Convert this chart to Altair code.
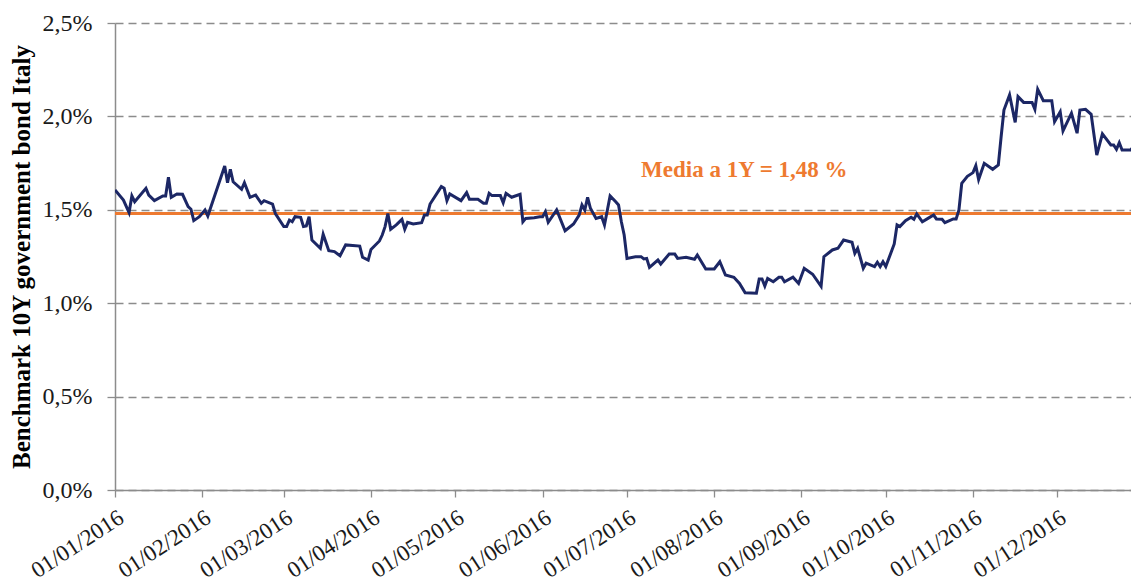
import altair as alt
import pandas as pd

# ---- data ----
month_day = [
    "01-01", "01-04", "01-06", "01-07", "01-08", "01-12", "01-13", "01-15", "01-18", "01-19",
    "01-20", "01-21", "01-23", "01-25", "01-27", "01-28", "01-29", "01-31",
    "02-02", "02-03", "02-09", "02-10", "02-11", "02-12", "02-15", "02-16", "02-18", "02-20",
    "02-22", "02-23", "02-26", "02-27",
    "03-01", "03-02", "03-03", "03-04", "03-05", "03-07", "03-08", "03-09", "03-10", "03-11",
    "03-14", "03-15", "03-17", "03-19", "03-21", "03-23", "03-28", "03-29", "03-31",
    "04-01", "04-04", "04-05", "04-06", "04-07", "04-08", "04-10", "04-12", "04-13", "04-14",
    "04-16", "04-19", "04-20", "04-21", "04-22", "04-26", "04-27", "04-28", "04-29",
    "05-03", "05-05", "05-06", "05-09", "05-11", "05-12", "05-13", "05-14", "05-17", "05-18",
    "05-19", "05-21", "05-24", "05-25", "05-26", "05-29", "05-31",
    "06-01", "06-02", "06-03", "06-06", "06-09", "06-12", "06-14", "06-15", "06-16", "06-17",
    "06-18", "06-20", "06-22", "06-23", "06-25", "06-27", "06-28", "06-29", "06-30",
    "07-01", "07-04", "07-06", "07-07", "07-08", "07-09", "07-12", "07-13", "07-16", "07-18",
    "07-19", "07-22", "07-25", "07-26", "07-29",
    "08-01", "08-03", "08-05", "08-08", "08-10", "08-12", "08-16", "08-17", "08-18", "08-19",
    "08-20", "08-22", "08-24", "08-25", "08-26", "08-29", "08-31",
    "09-02", "09-05", "09-08", "09-09", "09-12", "09-14", "09-16", "09-19", "09-20", "09-21",
    "09-23", "09-24", "09-27", "09-28", "09-29", "09-30",
    "10-01", "10-04", "10-05", "10-06", "10-08", "10-10", "10-11", "10-12", "10-14", "10-16",
    "10-18", "10-19", "10-21", "10-22", "10-25", "10-26", "10-27", "10-28", "10-30",
    "11-01", "11-02", "11-03", "11-05", "11-08", "11-10", "11-11", "11-12", "11-14", "11-16",
    "11-17", "11-19", "11-22", "11-23", "11-24", "11-26", "11-29", "11-30",
    "12-02", "12-03", "12-06", "12-08", "12-09", "12-11", "12-13", "12-15", "12-17", "12-20",
    "12-21", "12-22", "12-23", "12-24", "12-27", "12-28", "12-30",
]

yields = [
    1.606, 1.552, 1.485, 1.574, 1.543, 1.615, 1.579, 1.549, 1.574, 1.574,
    1.674, 1.567, 1.585, 1.583, 1.517, 1.503, 1.442, 1.463,
    1.499, 1.467, 1.734, 1.645, 1.717, 1.650, 1.610, 1.645, 1.567, 1.579,
    1.535, 1.549, 1.531, 1.480,
    1.410, 1.410, 1.445, 1.436, 1.463, 1.460, 1.410, 1.413, 1.463, 1.338,
    1.294, 1.369, 1.281, 1.276, 1.254, 1.312, 1.306, 1.246, 1.231,
    1.288, 1.333, 1.365, 1.410, 1.480, 1.396, 1.419, 1.449, 1.396, 1.433,
    1.424, 1.431, 1.472, 1.472, 1.531, 1.624, 1.615, 1.549, 1.585,
    1.549, 1.592, 1.556, 1.556, 1.535, 1.535, 1.588, 1.576, 1.576, 1.538,
    1.588, 1.567, 1.583, 1.436, 1.454, 1.458, 1.463,
    1.463, 1.490, 1.433, 1.499, 1.388, 1.424, 1.472, 1.526, 1.499, 1.567,
    1.508, 1.454, 1.463, 1.419, 1.574, 1.543, 1.526, 1.436, 1.365,
    1.240, 1.249, 1.249, 1.237, 1.240, 1.192, 1.231, 1.210, 1.263, 1.263,
    1.240, 1.246, 1.235, 1.258, 1.183,
    1.183, 1.222, 1.151, 1.139, 1.106, 1.056, 1.053, 1.130, 1.130, 1.092,
    1.133, 1.115, 1.139, 1.139, 1.115, 1.139, 1.106,
    1.187, 1.155, 1.090, 1.249, 1.285, 1.294, 1.338, 1.326, 1.267, 1.294,
    1.187, 1.214, 1.196, 1.219, 1.196, 1.222,
    1.196, 1.317, 1.419, 1.410, 1.442, 1.460, 1.449, 1.478, 1.436, 1.454,
    1.472, 1.451, 1.449, 1.431, 1.451, 1.451, 1.499, 1.642, 1.679,
    1.699, 1.736, 1.662, 1.749, 1.717, 1.740, 1.891, 2.034, 2.115, 1.968,
    2.106, 2.075, 2.075, 2.038, 2.145, 2.084, 2.084, 1.972,
    2.025, 1.922, 2.017, 1.910, 2.034, 2.038, 2.011, 1.793, 1.906, 1.847,
    1.847, 1.824, 1.859, 1.820, 1.820, 1.838, 1.829,
]

mean_1y = 1.48
annotation_text = "Media a 1Y = 1,48 %"
annotation_date = "2016-07-06"
annotation_y = 1.676
y_ticks = [0, 0.5, 1.0, 1.5, 2.0, 2.5]
y_title = "Benchmark 10Y government bond Italy"

FONT = "Liberation Serif"
NAVY = "#1c2765"
ORANGE = "#ee7a30"
GREY = "#8c8c8c"

df = pd.DataFrame({"date": ["2016-" + d for d in month_day], "yield": yields})
ann = pd.DataFrame({"date": [annotation_date], "yield": [annotation_y], "label": [annotation_text]})

# the visible window cuts the last few days of the year at the right edge
x_scale = alt.Scale(domain=[alt.DateTime(year=2016, month=1, date=1),
                            alt.DateTime(year=2016, month=12, date=27, hours=4)])
y_scale = alt.Scale(domain=[0, 2.5], nice=False)

x_axis = alt.Axis(
    values=[alt.DateTime(year=2016, month=m, date=1) for m in range(1, 13)],
    format="%d/%m/%Y", labelAngle=-33, labelAlign="right", labelBaseline="top",
    labelFont=FONT, labelFontSize=23, labelColor="#1a1a1a", labelPadding=9,
    labelOverlap=False, labelFlush=False, tickSize=7, tickColor=GREY, tickWidth=1.3,
    domainColor=GREY, domainWidth=1.5, grid=False, title=None,
)
y_axis = alt.Axis(
    values=y_ticks,
    labelExpr="replace(format(datum.value, '.1f'), '.', ',') + '%'",
    labelFont=FONT, labelFontSize=24, labelColor="#1a1a1a", labelPadding=15,
    tickSize=8, tickColor=GREY, tickWidth=1.3, domainColor=GREY, domainWidth=1.5,
    grid=True, gridDash=[8, 5], gridColor=GREY, gridWidth=1.3,
    title=y_title, titleFont=FONT, titleFontSize=25, titleFontWeight="bold",
    titleColor="#000000", titleAngle=-90, titleAlign="center",
    titleBaseline="alphabetic", titleX=-86, titleY=233.5,
)

line = alt.Chart(df).mark_line(color=NAVY, strokeWidth=3, clip=True).encode(
    x=alt.X("date:T", scale=x_scale, axis=x_axis),
    y=alt.Y("yield:Q", scale=y_scale, axis=y_axis),
)

mean_rule = alt.Chart(df).mark_rule(color=ORANGE, strokeWidth=3).encode(
    y=alt.datum(mean_1y)
)

label = alt.Chart(ann).mark_text(
    align="left", baseline="alphabetic", font=FONT, fontSize=23,
    fontWeight="bold", color=ORANGE,
).encode(
    x=alt.X("date:T", scale=x_scale),
    y=alt.Y("yield:Q", scale=y_scale),
    text="label:N",
)

chart = (
    alt.layer(mean_rule, line, label)
    .properties(
        width=1016, height=467,
        autosize=alt.AutoSizeParams(type="none"),
        padding={"left": 107, "top": 15, "right": 0, "bottom": 95},
        background="white",
    )
    .configure_view(stroke=None)
)

chart.save("out.html", embed_options={"renderer": "svg", "actions": False})
